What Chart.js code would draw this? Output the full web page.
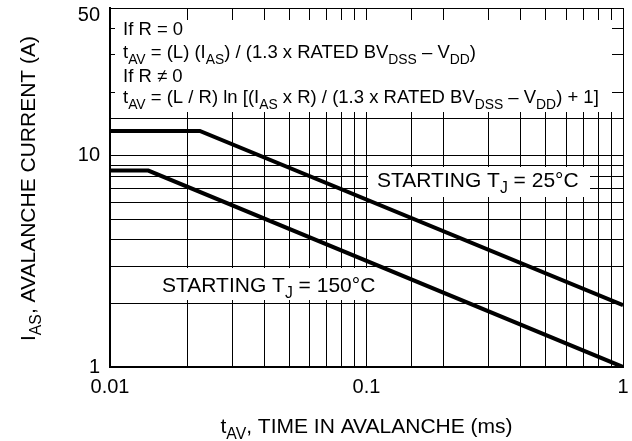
<!DOCTYPE html>
<html><head><meta charset="utf-8">
<script src="https://cdn.jsdelivr.net/npm/chart.js@4/dist/chart.umd.min.js"></script>
<style>html,body{margin:0;padding:0;background:#fff}#wrap{width:632px;height:441px}</style>
</head><body><div id="wrap"><canvas id="c" width="632" height="441"></canvas></div>
<script>
// ---- data ----
const tAV_25 = [0.01, 0.0224, 1];
const iAS_25 = [13.1, 13.1, 1.96];
const tAV_150 = [0.01, 0.0141, 1];
const iAS_150 = [8.5, 8.5, 1.0];
const xTickLabels = [0.01, 0.1, 1];
const yTickLabels = [1, 10, 50];
const seriesNames = ["STARTING TJ = 25°C", "STARTING TJ = 150°C"];

const FONT = '"Liberation Sans", Arial, Helvetica, sans-serif';
const SUB = 0.75;

function pts(xs, ys) { return xs.map((x, i) => ({x: x, y: ys[i]})); }
function isLabel(v, list) { return list.some(t => Math.abs(Math.log10(v) - Math.log10(t)) < 1e-6); }

function richWidth(ctx, parts, size) {
  let w = 0;
  for (const p of parts) {
    ctx.font = (p[1] ? size * SUB : size) + 'px ' + FONT;
    w += ctx.measureText(p[0]).width;
  }
  return w;
}
function drawRich(ctx, x, y, parts, size, align) {
  let w = richWidth(ctx, parts, size);
  let cx = align === 'center' ? x - w / 2 : x;
  ctx.textBaseline = 'alphabetic';
  ctx.textAlign = 'left';
  ctx.fillStyle = '#000';
  for (const p of parts) {
    const s = p[1] ? size * SUB : size;
    ctx.font = s + 'px ' + FONT;
    ctx.fillText(p[0], cx, y + (p[1] ? size * 0.3 : 0));
    cx += ctx.measureText(p[0]).width;
  }
}

const noteLines = [
  [["If R = 0"]],
  [["t"],["AV",1],[" = (L) (I"],["AS",1],[") / (1.3 x RATED BV"],["DSS",1],[" \u2013 V"],["DD",1],[")"]],
  [["If R \u2260 0"]],
  [["t"],["AV",1],[" = (L / R) ln [(I"],["AS",1],[" x R) / (1.3 x RATED BV"],["DSS",1],[" \u2013 V"],["DD",1],[") + 1]"]]
];
const noteBaselines = [35, 58, 82, 103];
const label25 = [["STARTING T"],["J",1],[" = 25\u00B0C"]];
const label150 = [["STARTING T"],["J",1],[" = 150\u00B0C"]];
const xTitle = [["t"],["AV",1],[", TIME IN AVALANCHE (ms)"]];
const yTitle = [["I"],["AS",1],[", AVALANCHE CURRENT (A)"]];

const overlay = {
  id: 'overlay',
  beforeDatasetsDraw(chart) {
    const ctx = chart.ctx;
    ctx.save();
    ctx.fillStyle = '#fff';
    ctx.fillRect(115, 20, 497, 92);
    noteLines.forEach((l, i) => drawRich(ctx, 123, noteBaselines[i], l, 18.5, 'left'));
    ctx.fillStyle = '#fff';
    ctx.fillRect(368, 167, 222, 30);
    drawRich(ctx, 377, 187, label25, 21, 'left');
    ctx.fillStyle = '#fff';
    ctx.fillRect(156, 268, 229, 32);
    drawRich(ctx, 162, 292, label150, 21, 'left');
    ctx.restore();
  },
  afterDraw(chart) {
    const ctx = chart.ctx;
    const a = chart.chartArea;
    ctx.save();
    drawRich(ctx, (a.left + a.right) / 2, 433, xTitle, 21, 'center');
    ctx.translate(35, (a.top + a.bottom) / 2 + 1);
    ctx.rotate(-Math.PI / 2);
    drawRich(ctx, 0, 0, yTitle, 21, 'center');
    ctx.restore();
  }
};

new Chart(document.getElementById('c'), {
  type: 'scatter',
  data: {
    datasets: [
      {label: seriesNames[0], data: pts(tAV_25, iAS_25), showLine: true, borderColor: '#000', borderWidth: 4, pointRadius: 0, fill: false},
      {label: seriesNames[1], data: pts(tAV_150, iAS_150), showLine: true, borderColor: '#000', borderWidth: 4, pointRadius: 0, fill: false}
    ]
  },
  options: {
    responsive: false,
    devicePixelRatio: 1,
    animation: false,
    layout: {padding: {top: 8, right: 9, left: 0, bottom: 0}},
    plugins: {legend: {display: false}, tooltip: {enabled: false}},
    scales: {
      x: {
        type: 'logarithmic', min: 0.01, max: 1, position: 'bottom',
        grid: {color: '#000', lineWidth: 1, drawTicks: false},
        border: {display: true, color: '#000', width: 2},
        ticks: {autoSkip: false, maxRotation: 0, padding: 8, color: '#000',
          font: {family: FONT, size: 20},
          callback: (v) => isLabel(v, xTickLabels) ? String(v) : ''},
        afterFit: (s) => { s.height = 74; s.paddingLeft = 0; s.paddingRight = 0; }
      },
      y: {
        type: 'logarithmic', min: 1, max: 50,
        grid: {color: '#000', lineWidth: 1, drawTicks: false},
        border: {display: true, color: '#000', width: 2},
        ticks: {autoSkip: false, padding: 10, color: '#000',
          font: {family: FONT, size: 20, lineHeight: 0.7},
          callback: (v) => {
            if (!isLabel(v, yTickLabels)) return '';
            return Math.abs(v - 50) < 1e-6 ? ['', String(v)] : String(v);
          }},
        afterFit: (s) => { s.width = 110; s.paddingTop = 0; s.paddingBottom = 0; }
      }
    }
  },
  plugins: [overlay]
});
</script></body></html>
